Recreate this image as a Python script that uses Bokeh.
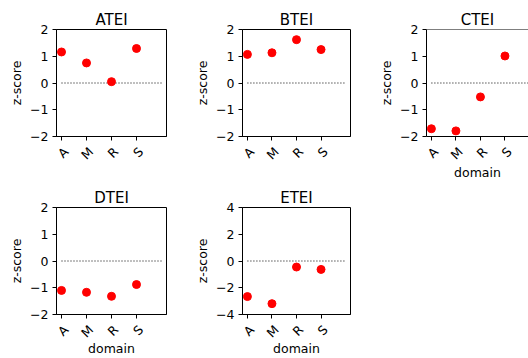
import math
from bokeh.plotting import figure
from bokeh.models import Range1d, FixedTicker, Span, LinearAxis
from bokeh.layouts import column, row
from bokeh.embed import file_html
from bokeh.resources import INLINE

# ---- data ----
domains = ["A", "M", "R", "S"]
atei = [1.16, 0.75, 0.05, 1.29]
btei = [1.07, 1.13, 1.62, 1.25]
ctei = [-1.71, -1.79, -0.52, 1.01]
dtei = [-1.10, -1.17, -1.32, -0.88]
etei = [-2.66, -3.19, -0.45, -0.63]

yticks_small = [-2, -1, 0, 1, 2]
ylabels_small = ["\u22122", "\u22121", "0", "1", "2"]
yticks_big = [-4, -2, 0, 2, 4]
ylabels_big = ["\u22124", "\u22122", "0", "2", "4"]
reference_level = 0

FONT = "DejaVu Sans"
TICK_FS = "12.5px"
LABEL_FS = "12.5px"
TITLE_FS = "15px"
LABEL_SHIFT = 0.18   # horizontal nudge (data units) so rotated labels sit centred on ticks


def style_axis(ax):
    ax.axis_line_color = "black"
    ax.axis_line_width = 1
    ax.major_tick_in = 0
    ax.major_tick_out = 4
    ax.major_tick_line_color = "black"
    ax.minor_tick_in = 0
    ax.minor_tick_out = 0
    ax.major_label_text_font = FONT
    ax.major_label_text_font_size = TICK_FS
    ax.major_label_text_color = "black"
    ax.axis_label_text_font = FONT
    ax.axis_label_text_font_size = LABEL_FS
    ax.axis_label_text_font_style = "normal"
    ax.axis_label_text_color = "black"


def make(title, values, yticks, ylabels, xlabel, fig_w, fig_h, border_left,
         border_top, frame_w, frame_h, clip_right=False, xlabel_standoff=-8):
    xs = list(range(len(domains)))
    x_end = -0.2 + frame_w / 25.0
    p = figure(width=fig_w, height=fig_h,
               x_range=Range1d(-0.2, x_end),
               y_range=Range1d(yticks[0], yticks[-1]),
               output_backend="svg", toolbar_location=None,
               min_border_left=border_left,
               min_border_right=fig_w - border_left - frame_w,
               min_border_top=border_top,
               min_border_bottom=fig_h - border_top - frame_h,
               background_fill_color="white", border_fill_color="white")
    p.title.text = title
    p.title.align = "center"
    p.title.text_font = FONT
    p.title.text_font_size = TITLE_FS
    p.title.text_font_style = "normal"
    p.title.text_color = "black"
    p.title.standoff = 2

    p.xgrid.visible = False
    p.ygrid.visible = False
    if clip_right:
        p.outline_line_color = None
        p.add_layout(Span(location=yticks[-1], dimension="width",
                          line_color="black", line_width=1))
    else:
        p.outline_line_color = "black"
        p.outline_line_width = 1

    style_axis(p.xaxis[0])
    style_axis(p.yaxis[0])

    p.yaxis.ticker = FixedTicker(ticks=yticks)
    p.yaxis.major_label_overrides = {t: l for t, l in zip(yticks, ylabels)}
    p.yaxis.axis_label = "z-score"
    p.yaxis.axis_label_standoff = 3
    p.yaxis.major_label_standoff = 4

    # first bottom axis: spine + tick marks only
    p.xaxis.ticker = FixedTicker(ticks=xs)
    p.xaxis.major_label_overrides = {i: "" for i in xs}
    p.xaxis.major_label_text_font_size = "0px"
    p.xaxis.major_label_standoff = 0

    # second bottom axis: rotated category labels (+ axis title)
    lab_ticks = [i + LABEL_SHIFT for i in xs]
    ax2 = LinearAxis(ticker=FixedTicker(ticks=lab_ticks),
                     major_label_overrides={t: d for t, d in zip(lab_ticks, domains)})
    style_axis(ax2)
    ax2.axis_line_color = None
    ax2.major_tick_line_color = None
    ax2.major_tick_out = 0
    ax2.major_label_orientation = math.pi / 4
    ax2.major_label_standoff = 9
    if xlabel:
        ax2.axis_label = xlabel
        ax2.axis_label_standoff = xlabel_standoff
    p.add_layout(ax2, "below")

    p.line(x=[xs[0], len(domains)], y=[reference_level, reference_level],
           line_color="black", line_width=1, line_dash="1 2")
    p.scatter(x=xs, y=values, size=8, fill_color="red", line_color="red")
    return p


# row 1: y 0..185, frame 29..136 ; row 2: y 185..358, frame 207..314
p1 = make("ATEI", atei, yticks_small, ylabels_small, None, 192, 185, 56, 29, 110, 107)
p2 = make("BTEI", btei, yticks_small, ylabels_small, None, 184, 185, 48, 29, 110, 107)
p3 = make("CTEI", ctei, yticks_small, ylabels_small, "domain", 152, 185, 48, 29, 104, 107,
          clip_right=True, xlabel_standoff=-6)
p4 = make("DTEI", dtei, yticks_small, ylabels_small, "domain", 192, 173, 56, 22, 110, 107)
p5 = make("ETEI", etei, yticks_big, ylabels_big, "domain", 184, 173, 48, 22, 110, 107)

layout = column(row(p1, p2, p3), row(p4, p5))
open("out.html", "w").write(file_html(layout, INLINE))
